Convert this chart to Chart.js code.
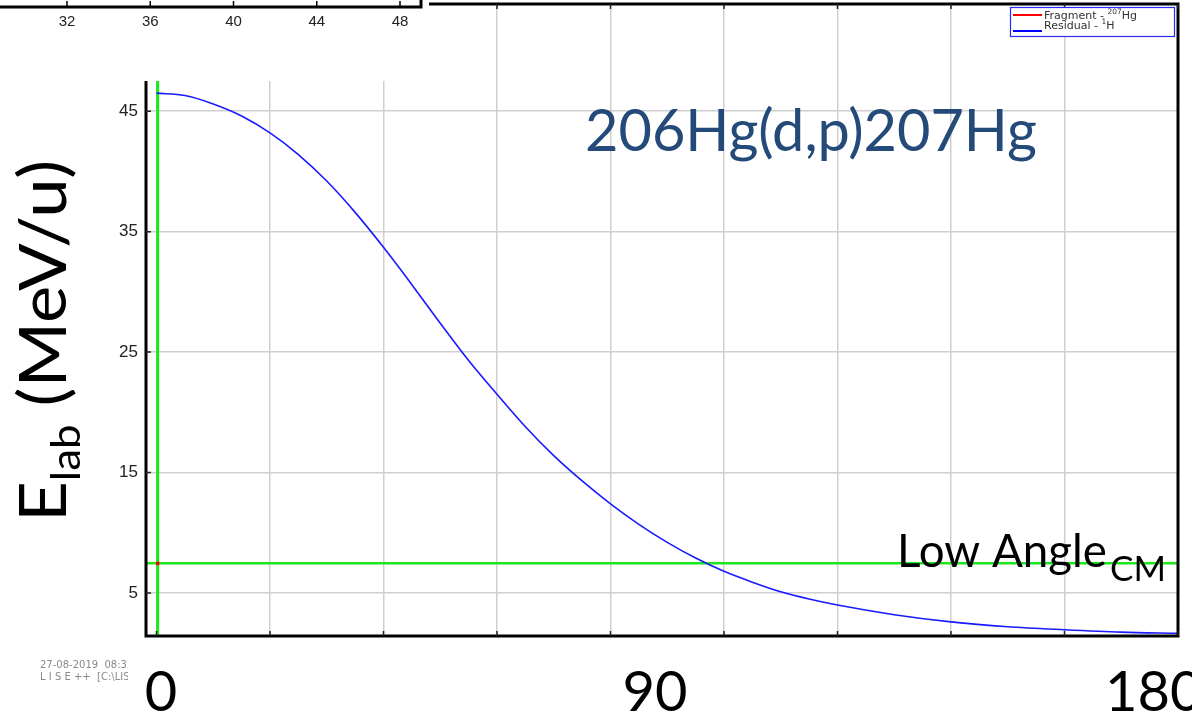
<!DOCTYPE html>
<html>
<head>
<meta charset="utf-8">
<script src="https://cdn.jsdelivr.net/npm/chart.js@4.4.0/dist/chart.umd.min.js"></script>
<style>
  html, body { margin: 0; padding: 0; background: #fff; }
  #wrap { position: relative; width: 1192px; height: 713px; }
</style>
</head>
<body>
<div id="wrap"><canvas id="chart" width="1192" height="713"></canvas></div>
<script>
const angleCM   = [0, 5, 10, 15, 20, 25, 30, 35, 40, 45, 50, 55, 60, 65, 70, 75, 80, 85, 90, 95,
                   100, 105, 110, 115, 120, 130, 140, 150, 160, 170, 180];
const residualE = [46.5, 46.3, 45.6, 44.6, 43.2, 41.4, 39.2, 36.6, 33.7, 30.6, 27.4, 24.3, 21.5, 18.8, 16.4, 14.3, 12.4, 10.7, 9.2, 7.9,
                   6.8, 5.9, 5.1, 4.5, 4.0, 3.2, 2.6, 2.2, 1.95, 1.75, 1.65];
const fragmentAngle = [0.2];
const fragmentE     = [7.46];
const cursorAngle = 0.2;     // green vertical cursor
const cursorE     = 7.46;    // green horizontal cursor
const xRange = [-1.85, 180];
const yRange = [1.43, 53.9];
const xGridTicks = [0, 20, 40, 60, 80, 100, 120, 140, 160, 180];
const yTicks     = [5, 15, 25, 35, 45];
const insetTicks = [32, 36, 40, 44, 48];
const bigXLabels = ['0', '90', '180'];

const pts = (xs, ys) => xs.map((x, i) => ({ x, y: ys[i] }));
const GREEN = '#1be81b';
const CAL = 'Lato, "Open Sans", sans-serif';
const LISE = '"DejaVu Sans", Verdana, sans-serif';

function fitFont(ctx, text, width, family) {
  ctx.font = '100px ' + family;
  return 100 * width / ctx.measureText(text).width;
}

const overlay = {
  id: 'overlay',
  afterDraw(chart) {
    const { ctx, chartArea: a, scales } = chart;
    const xs = scales.x, ys = scales.y;
    ctx.save();

    // frame
    ctx.strokeStyle = '#000';
    ctx.lineWidth = 3;
    ctx.strokeRect(a.left, a.top, a.right - a.left, a.bottom - a.top);

    // inner tick marks
    ctx.lineWidth = 1.5;
    ctx.strokeStyle = '#222';
    ctx.beginPath();
    yTicks.forEach(v => { const y = ys.getPixelForValue(v); ctx.moveTo(a.left, y); ctx.lineTo(a.left + 5, y); });
    xGridTicks.forEach(v => {
      const x = xs.getPixelForValue(v);
      ctx.moveTo(x, a.top); ctx.lineTo(x, a.top + 5);
      ctx.moveTo(x, a.bottom); ctx.lineTo(x, a.bottom - 5);
    });
    ctx.stroke();

    // pasted-over corner with the fragment of another plot
    ctx.fillStyle = '#fff';
    ctx.fillRect(0, 0, 429, 81);
    ctx.strokeStyle = '#000';
    ctx.lineWidth = 3;
    ctx.beginPath();
    ctx.moveTo(0, 7); ctx.lineTo(421, 7); ctx.lineTo(421, 0);
    ctx.stroke();
    ctx.lineWidth = 1.5;
    ctx.fillStyle = '#222';
    ctx.font = '15px "Liberation Sans", Arial, sans-serif';
    ctx.textAlign = 'center';
    ctx.textBaseline = 'alphabetic';
    insetTicks.forEach(v => {
      const x = 67 + (v - 32) * (400 - 67) / 16;
      ctx.beginPath(); ctx.moveTo(x, 1); ctx.lineTo(x, 7); ctx.stroke();
      ctx.fillText(String(v), x, 26);
    });

    // legend
    ctx.fillStyle = '#fff';
    ctx.fillRect(1010, 7, 165, 30);
    ctx.strokeStyle = '#2a2aff';
    ctx.lineWidth = 1.2;
    ctx.strokeRect(1010.5, 7.5, 164, 29);
    const legendRows = [
      { color: '#ff0000', y: 15, base: 19, pre: 'Fragment - ', sup: '207', post: 'Hg' },
      { color: '#0000ff', y: 31, base: 28.5, pre: 'Residual - ', sup: '1', post: 'H' }
    ];
    ctx.textAlign = 'left';
    legendRows.forEach(r => {
      ctx.strokeStyle = r.color;
      ctx.lineWidth = 2;
      ctx.beginPath(); ctx.moveTo(1013, r.y); ctx.lineTo(1042, r.y); ctx.stroke();
      ctx.fillStyle = '#333';
      let x = 1044;
      ctx.font = '11px ' + LISE;
      ctx.fillText(r.pre, x, r.base); x += ctx.measureText(r.pre).width;
      ctx.font = '7.5px ' + LISE;
      ctx.fillText(r.sup, x, r.base - 5); x += ctx.measureText(r.sup).width;
      ctx.font = '11px ' + LISE;
      ctx.fillText(r.post, x, r.base);
    });

    // reaction title
    const title = '206Hg(d,p)207Hg';
    ctx.fillStyle = '#244a7a';
    ctx.font = fitFont(ctx, title, 452, CAL) + 'px ' + CAL;
    ctx.fillText(title, 585, 151);

    // Low Angle_CM
    ctx.fillStyle = '#000';
    ctx.font = fitFont(ctx, 'Low Angle', 210, CAL) + 'px ' + CAL;
    ctx.fillText('Low Angle', 897, 567);
    ctx.font = fitFont(ctx, 'CM', 56, CAL) + 'px ' + CAL;
    ctx.fillText('CM', 1110, 581);

    // y axis title, rotated, stretched along the text to the reference length
    ctx.save();
    ctx.translate(66, 522);
    ctx.rotate(-Math.PI / 2);
    const F = 65;
    const parts = [['E', F, 0], ['lab', F * 0.62, F * 0.22], [' (MeV/u)', F, 0]];
    let total = 0;
    parts.forEach(p => { ctx.font = p[1] + 'px ' + CAL; total += ctx.measureText(p[0]).width; });
    ctx.scale(362 / total, 1);
    let ox = 0;
    parts.forEach(p => {
      ctx.font = p[1] + 'px ' + CAL;
      ctx.fillText(p[0], ox, p[2]);
      ox += ctx.measureText(p[0]).width;
    });
    ctx.restore();

    // big x labels typed over the original axis
    ctx.font = '56px ' + CAL;
    ctx.fillStyle = '#000';
    ctx.textAlign = 'center';
    ctx.fillText(bigXLabels[0], 161, 711);
    ctx.fillText(bigXLabels[1], 655, 711);
    ctx.textAlign = 'left';
    ctx.fillText(bigXLabels[2], 1105, 711);

    // LISE++ stamp, cut off by the label box
    ctx.save();
    ctx.beginPath(); ctx.rect(0, 640, 128, 60); ctx.clip();
    ctx.fillStyle = '#8a8a8a';
    ctx.font = '10px ' + LISE;
    ctx.fillText('27-08-2019  08:32', 40, 668);
    ctx.fillText('L I S E ++  [C:\\LISE\\', 40, 680);
    ctx.restore();

    ctx.restore();
  }
};

new Chart(document.getElementById('chart'), {
  type: 'line',
  data: {
    datasets: [
      { label: 'Fragment - 207Hg', data: pts(fragmentAngle, fragmentE), showLine: false,
        pointStyle: 'rect', pointRadius: 2.5, backgroundColor: '#ff0000', borderColor: '#ff0000', borderWidth: 0 },
      { label: 'Residual - 1H', data: pts(angleCM, residualE), borderColor: '#1a1aff', borderWidth: 1.6,
        pointRadius: 0, cubicInterpolationMode: 'monotone', fill: false },
      { label: 'cursor angle', data: pts([cursorAngle, cursorAngle], yRange), borderColor: GREEN, borderWidth: 3, pointRadius: 0 },
      { label: 'cursor energy', data: pts(xRange, [cursorE, cursorE]), borderColor: GREEN, borderWidth: 2.5, pointRadius: 0 }
    ]
  },
  options: {
    responsive: false,
    devicePixelRatio: 1,
    animation: false,
    layout: { autoPadding: false, padding: { top: 4, right: 14, left: 0, bottom: 0 } },
    plugins: { legend: { display: false }, tooltip: { enabled: false } },
    scales: {
      x: {
        type: 'linear', min: xRange[0], max: xRange[1],
        afterBuildTicks: s => { s.ticks = xGridTicks.map(value => ({ value })); },
        afterFit: s => { s.height = 77; s.paddingLeft = 0; s.paddingRight = 0; },
        ticks: { display: false },
        grid: { color: '#cfcfcf', lineWidth: 1.5, drawTicks: false },
        border: { display: false }
      },
      y: {
        type: 'linear', min: yRange[0], max: yRange[1],
        afterBuildTicks: s => { s.ticks = yTicks.map(value => ({ value })); },
        afterFit: s => { s.width = 146; s.paddingTop = 0; s.paddingBottom = 0; },
        ticks: { padding: 8, color: '#222', font: { family: '"Liberation Sans", Arial, sans-serif', size: 17 } },
        grid: { color: '#cfcfcf', lineWidth: 1.5, drawTicks: false },
        border: { display: false }
      }
    }
  },
  plugins: [overlay]
});
</script>
</body>
</html>
